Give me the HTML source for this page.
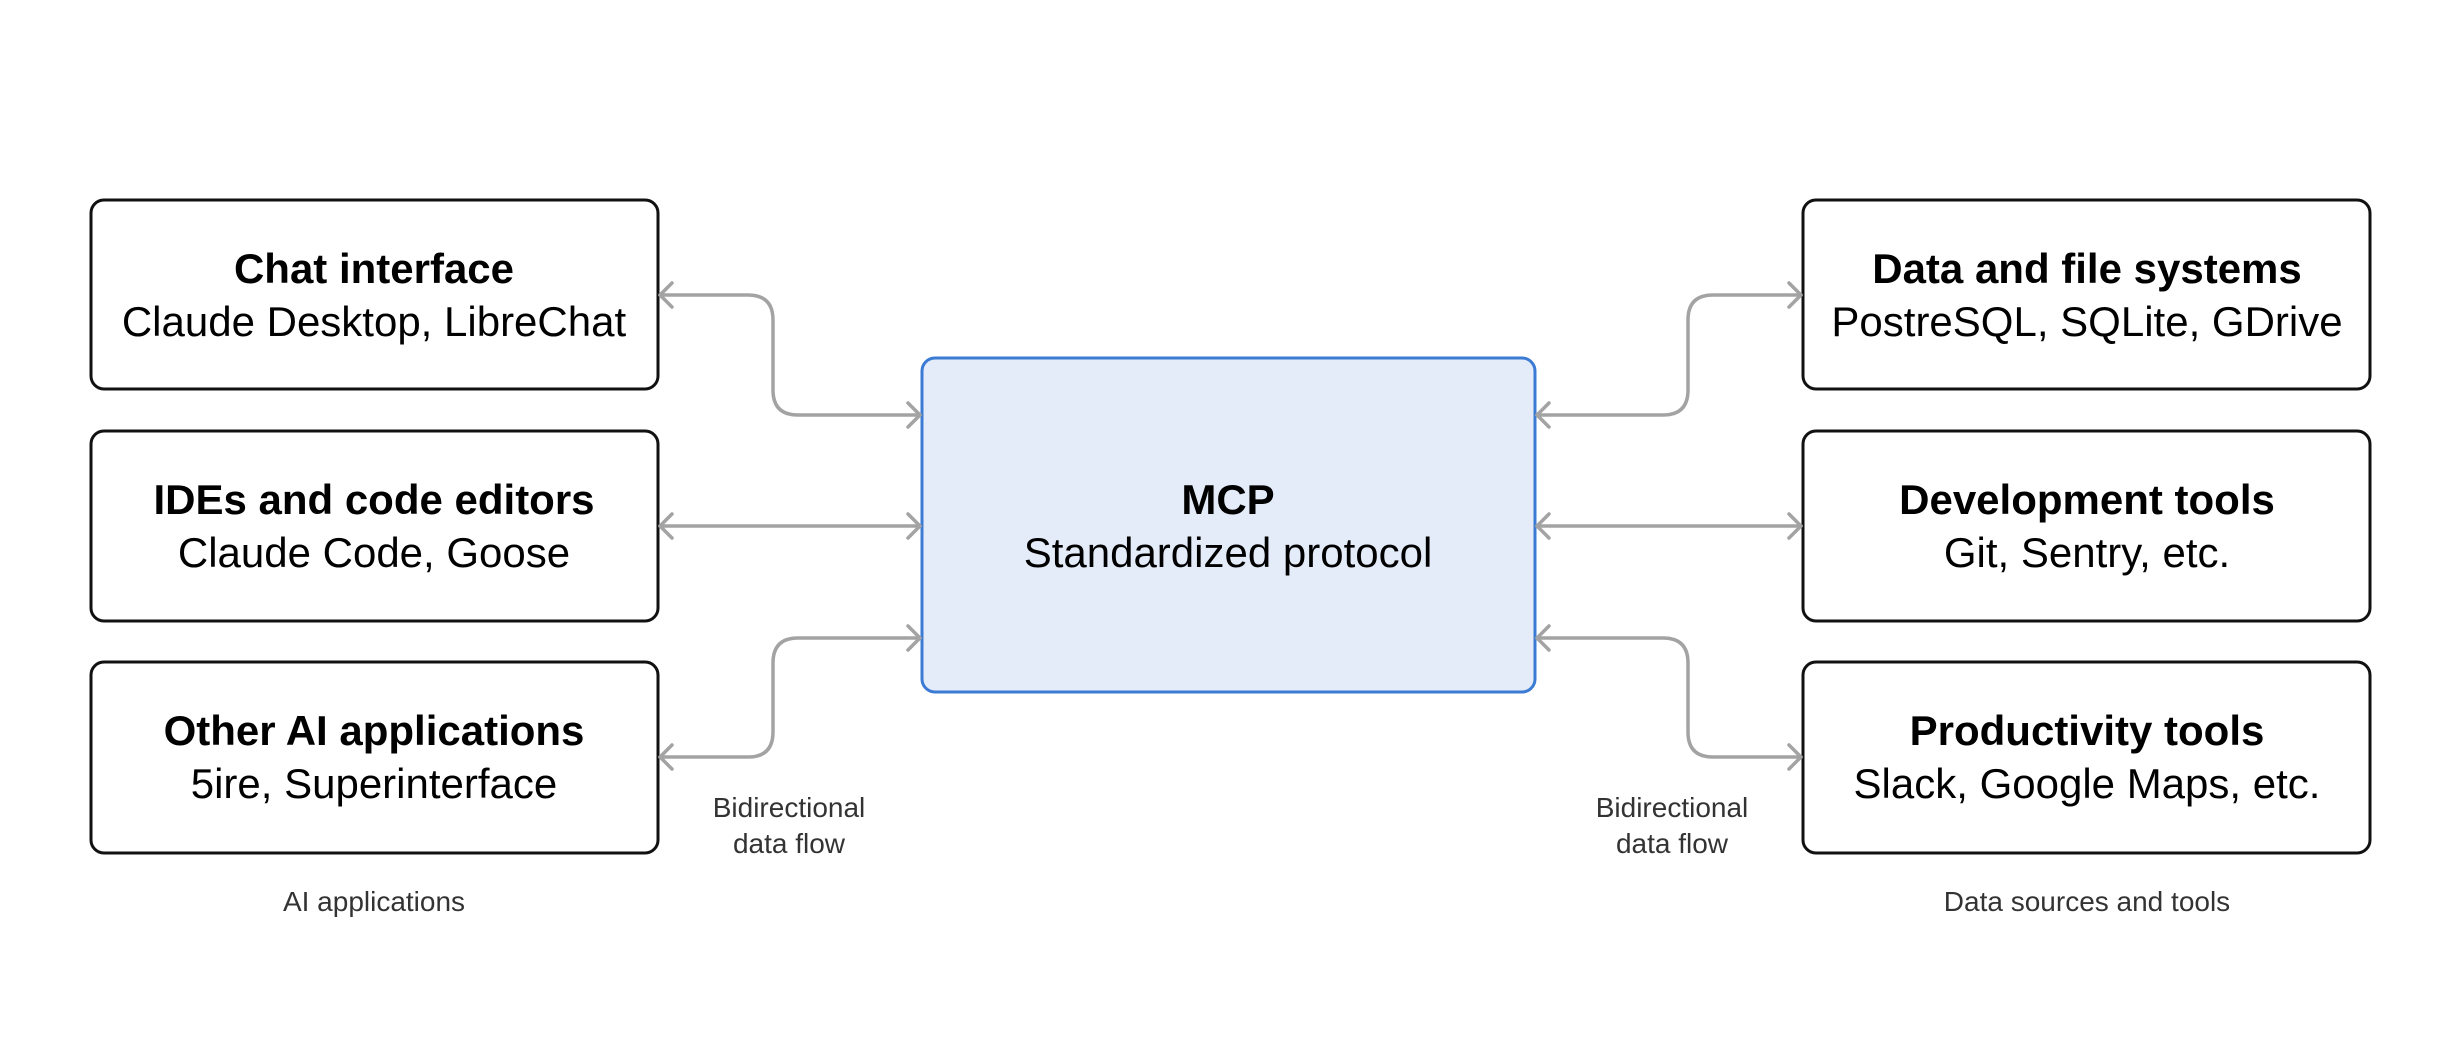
<!DOCTYPE html>
<html><head><meta charset="utf-8"><style>
html,body{margin:0;padding:0;background:#fff;}
svg{display:block;}
text{font-family:"Liberation Sans",Arial,sans-serif;}
</style></head><body>
<svg width="2464" height="1048" viewBox="0 0 2464 1048" xmlns="http://www.w3.org/2000/svg">
<rect width="2464" height="1048" fill="#fff"/>
<g fill="#fff" stroke="#111" stroke-width="3">
<rect x="91" y="200" width="567" height="189" rx="13"/>
<rect x="91" y="431" width="567" height="190" rx="13"/>
<rect x="91" y="662" width="567" height="191" rx="13"/>
<rect x="1803" y="200" width="567" height="189" rx="13"/>
<rect x="1803" y="431" width="567" height="190" rx="13"/>
<rect x="1803" y="662" width="567" height="191" rx="13"/>
</g>
<rect x="922" y="358" width="613" height="334" rx="13" fill="#e4ecf9" stroke="#3b7bd4" stroke-width="3"/>
<g fill="none" stroke="#a3a3a3" stroke-width="3.5" stroke-linecap="round" stroke-linejoin="round">
<path d="M660 295 H748 Q773 295 773 320 V390 Q773 415 798 415 H920"/>
<path d="M660 526 H920"/>
<path d="M660 757 H748 Q773 757 773 732 V663 Q773 638 798 638 H920"/>
<path d="M1537 415 H1663 Q1688 415 1688 390 V320 Q1688 295 1713 295 H1801"/>
<path d="M1537 526 H1801"/>
<path d="M1537 638 H1663 Q1688 638 1688 663 V732 Q1688 757 1713 757 H1801"/>
<path d="M672 283 L660 295 L672 307 M672 514 L660 526 L672 538 M672 745 L660 757 L672 769"/>
<path d="M908 403 L920 415 L908 427 M908 514 L920 526 L908 538 M908 626 L920 638 L908 650"/>
<path d="M1549 403 L1537 415 L1549 427 M1549 514 L1537 526 L1549 538 M1549 626 L1537 638 L1549 650"/>
<path d="M1789 283 L1801 295 L1789 307 M1789 514 L1801 526 L1789 538 M1789 745 L1801 757 L1789 769"/>
</g>
<g text-anchor="middle" fill="#000">
<g font-weight="bold" font-size="42">
<text x="374" y="283">Chat interface</text>
<text x="374" y="514">IDEs and code editors</text>
<text x="374" y="745">Other AI applications</text>
<text x="2087" y="283">Data and file systems</text>
<text x="2087" y="514">Development tools</text>
<text x="2087" y="745">Productivity tools</text>
<text x="1228" y="514">MCP</text>
</g>
<g font-size="42">
<text x="374" y="336">Claude Desktop, LibreChat</text>
<text x="374" y="567">Claude Code, Goose</text>
<text x="374" y="798">5ire, Superinterface</text>
<text x="2087" y="336">PostreSQL, SQLite, GDrive</text>
<text x="2087" y="567">Git, Sentry, etc.</text>
<text x="2087" y="798">Slack, Google Maps, etc.</text>
<text x="1228" y="567">Standardized protocol</text>
</g>
<g font-size="28" fill="#333">
<text x="789" y="817">Bidirectional</text>
<text x="789" y="853">data flow</text>
<text x="1672" y="817">Bidirectional</text>
<text x="1672" y="853">data flow</text>
<text x="374" y="911">AI applications</text>
<text x="2087" y="911">Data sources and tools</text>
</g>
</g>
</svg>
</body></html>
